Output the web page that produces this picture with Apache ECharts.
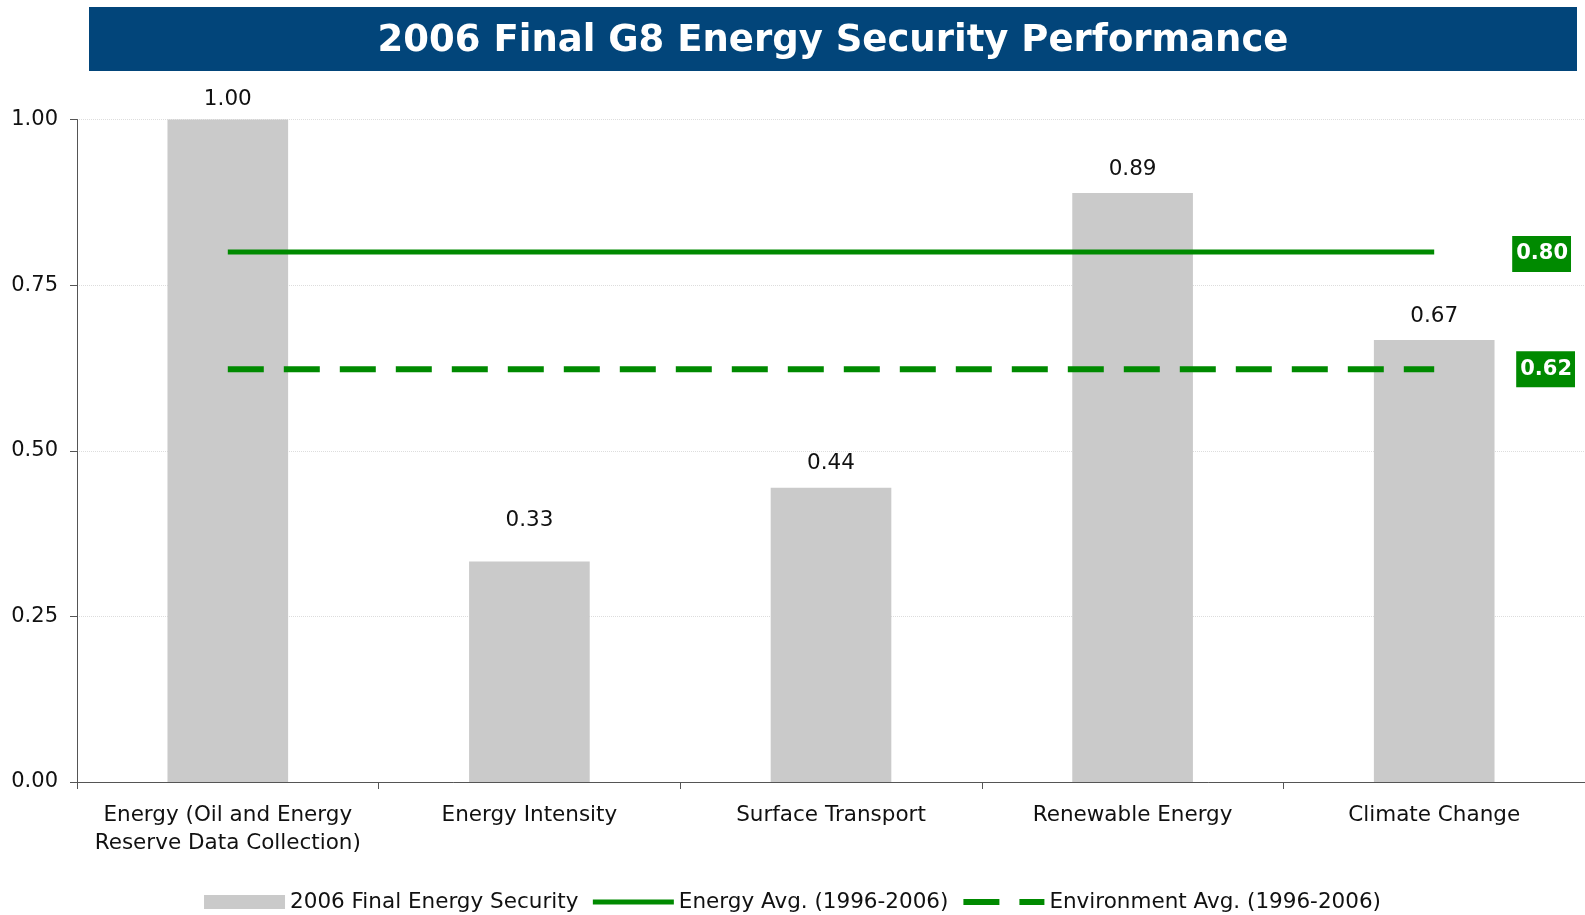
<!DOCTYPE html>
<html>
<head>
<meta charset="utf-8">
<script src="https://cdn.jsdelivr.net/npm/echarts@6/dist/echarts.min.js"></script>
<style>
html, body { margin: 0; padding: 0; background: #fff; }
#main { width: 1585px; height: 915px; }
</style>
</head>
<body>
<div id="main"></div>
<script>
var categories = ['Energy (Oil and Energy\nReserve Data Collection)', 'Energy Intensity', 'Surface Transport', 'Renewable Energy', 'Climate Change'];
var securityValues = [1.00, 0.333, 0.444, 0.889, 0.667];
var energyAvg = [0.80, 0.80, 0.80, 0.80, 0.80];
var environmentAvg = [0.623, 0.623, 0.623, 0.623, 0.623];

var font = 'DejaVu Sans, Verdana, sans-serif';
var green = '#008A00';

// label gap above each bar (the 0.33 label sits higher in the original)
var labelGap = [9, 30, 13, 13, 13];

var myChart = echarts.init(document.getElementById('main'));
var option = {
    animation: false,
    textStyle: { fontFamily: font },
    // title banner, text centred on the banner rather than the page
    graphic: [{
        type: 'rect',
        shape: { x: 89, y: 7, width: 1488, height: 64 },
        style: { fill: '#02457A' },
        z: 0
    }, {
        type: 'text',
        x: 833,
        y: 41,
        style: {
            text: '2006 Final G8 Energy Security Performance',
            fill: '#fff',
            font: 'bold 37px DejaVu Sans, Verdana, sans-serif',
            align: 'center',
            verticalAlign: 'middle'
        },
        z: 1
    }],
    grid: { left: 77, right: -2, top: 119.5, bottom: 133, containLabel: false },
    legend: {
        top: 886,
        left: 'center',
        itemWidth: 81,
        itemHeight: 14,
        itemGap: 12,
        textStyle: { fontSize: 21.5, color: '#111', fontFamily: font },
        data: [
            { name: '2006 Final Energy Security', icon: 'rect' },
            {
                name: 'Energy Avg. (1996-2006)',
                itemStyle: { color: 'rgba(0,0,0,0)', borderWidth: 0 },
                lineStyle: { color: green, width: 5 }
            },
            {
                name: 'Environment Avg. (1996-2006)',
                itemStyle: { color: 'rgba(0,0,0,0)', borderWidth: 0 },
                lineStyle: { color: green, width: 6, type: [36, 20] }
            }
        ]
    },
    xAxis: {
        type: 'category',
        data: categories,
        axisLine: { lineStyle: { color: '#555', width: 1 } },
        axisTick: { show: true, length: 7, lineStyle: { color: '#555' } },
        axisLabel: { fontSize: 21.5, color: '#111', margin: 19, lineHeight: 28, interval: 0 }
    },
    yAxis: {
        type: 'value',
        min: 0,
        max: 1,
        interval: 0.25,
        axisLine: { show: true, lineStyle: { color: '#555', width: 1 } },
        axisTick: { show: true, length: 7, lineStyle: { color: '#555' } },
        splitLine: { lineStyle: { color: '#ddd', type: 'dotted' } },
        axisLabel: {
            fontSize: 21, color: '#111', margin: 19,
            formatter: function (v) { return v.toFixed(2); }
        }
    },
    series: [
        {
            name: '2006 Final Energy Security',
            type: 'bar',
            data: securityValues.map(function (v, i) {
                return { value: v, label: { distance: labelGap[i] } };
            }),
            barWidth: '40%',
            itemStyle: { color: '#CACACA' },
            label: {
                show: true, position: 'top',
                fontSize: 21.5, color: '#111',
                formatter: function (p) { return p.value.toFixed(2); }
            },
            z: 1
        },
        {
            name: 'Energy Avg. (1996-2006)',
            type: 'line',
            data: energyAvg,
            showSymbol: false,
            symbol: 'none',
            itemStyle: { color: green },
            lineStyle: { color: green, width: 5 },
            endLabel: {
                show: true, distance: 78, offset: [0, 2],
                formatter: function (p) { return p.value.toFixed(2); },
                color: '#fff', fontWeight: 'bold', fontSize: 21,
                backgroundColor: green, padding: [8, 3, 7, 4]
            },
            z: 3
        },
        {
            name: 'Environment Avg. (1996-2006)',
            type: 'line',
            data: environmentAvg,
            showSymbol: false,
            symbol: 'none',
            itemStyle: { color: green },
            lineStyle: { color: green, width: 6, type: [36, 20] },
            endLabel: {
                show: true, distance: 82,
                formatter: function (p) { return p.value.toFixed(2); },
                color: '#fff', fontWeight: 'bold', fontSize: 21,
                backgroundColor: green, padding: [8, 3, 7, 4]
            },
            z: 3
        }
    ]
};
myChart.setOption(option);
</script>
</body>
</html>
